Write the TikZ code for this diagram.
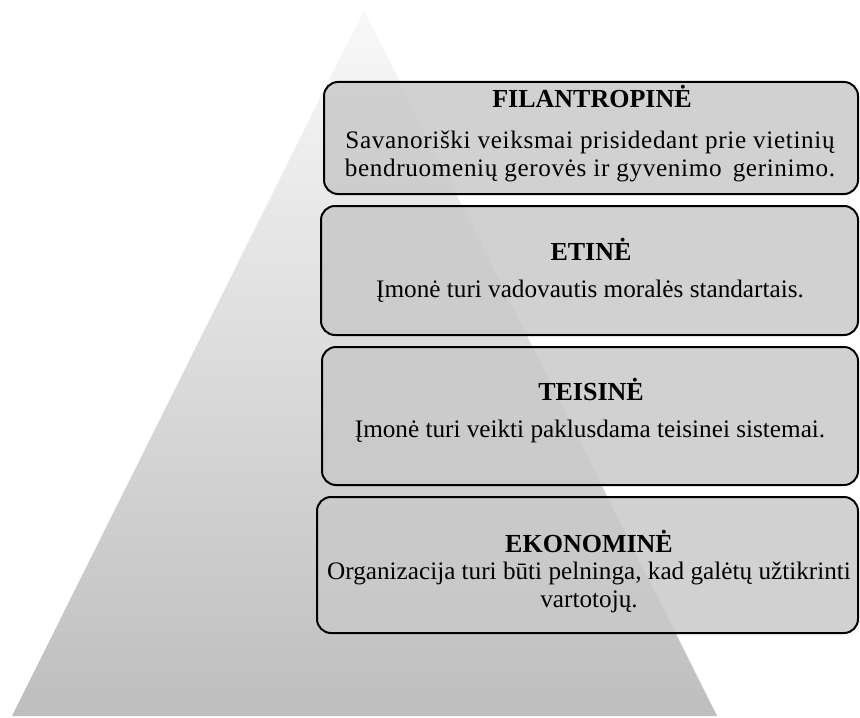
\documentclass[tikz,border=0pt]{standalone}
\usepackage{fontspec}
\setmainfont{Liberation Serif}
\definecolor{boxfill}{rgb}{0.79,0.79,0.79}
\definecolor{pyrtop}{rgb}{0.975,0.975,0.975}
\definecolor{pyrbottom}{rgb}{0.745,0.745,0.745}
\tikzset{
  level/.style={draw=black, line width=1pt, rounded corners=7pt,
    fill=boxfill, fill opacity=0.85, inner sep=0pt},
  heading/.style={font=\fontsize{13}{14}\selectfont\bfseries, anchor=base, inner sep=0pt},
  body/.style={font=\fontsize{12.6}{14}\selectfont, anchor=base, inner sep=0pt, align=center},
  widebody/.style={body, font=\fontsize{12.6}{14}\selectfont\addfontfeature{LetterSpace=2.5}}
}
\begin{document}
\begin{tikzpicture}[x=0.5pt,y=-0.5pt]
\useasboundingbox (0,0) rectangle (860,717);

% pyramid with vertical grey gradient
\shade[top color=pyrtop, bottom color=pyrbottom] (364,10) -- (717,716) -- (12,716) -- cycle;

% the four levels
\node[level, minimum width=267pt, minimum height=56pt]   (filbox) at (591,138) {};
\node[level, minimum width=268.5pt, minimum height=64.5pt] (etbox) at (589.5,270.5) {};
\node[level, minimum width=268pt, minimum height=69pt]   (tebox) at (590,416) {};
\node[level, minimum width=270.5pt, minimum height=68pt] (ekbox) at (587.5,565) {};

% texts
\node[heading] (filt) at (592,107) {FILANTROPINĖ};
\node[widebody] (fil1) at (590,148) {Savanoriški veiksmai prisidedant prie vietinių};
\node[widebody] (fil2) at (590,176) {bendruomenių gerovės ir gyvenimo\, gerinimo.};

\node[heading] (ett) at (591,260) {ETINĖ};
\node[body] (et1) at (590,297) {Įmonė turi vadovautis moralės standartais.};

\node[heading] (tet) at (591,400) {TEISINĖ};
\node[body] (te1) at (590,437) {Įmonė turi veikti paklusdama teisinei sistemai.};

\node[heading] (ekt) at (589,552) {EKONOMINĖ};
\node[body] (ek1) at (589,579) {Organizacija turi būti pelninga, kad galėtų užtikrinti};
\node[body] (ek2) at (589,607) {vartotojų.};
\end{tikzpicture}
\end{document}
